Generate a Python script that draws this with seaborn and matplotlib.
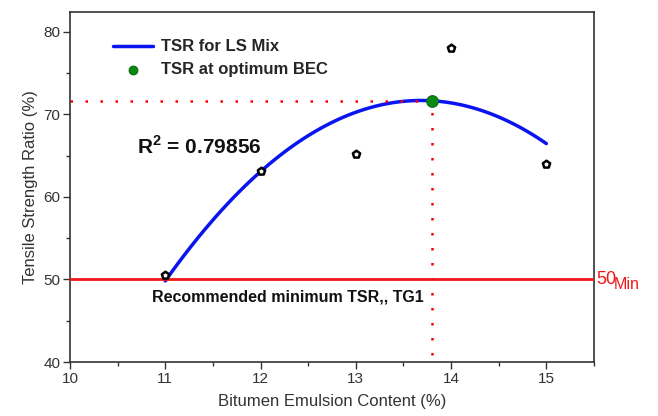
import matplotlib
matplotlib.use("Agg")
import matplotlib.pyplot as plt
import seaborn as sns
import pandas as pd
from matplotlib.ticker import MultipleLocator

# data
bec = [11, 12, 13, 14, 15]
tsr = [50.6, 63.2, 65.2, 78.0, 64.0]
opt_bec = [13.8]
opt_tsr = [71.6]
min_tsr = 50
r2_text = "R$^{2}$ = 0.79856"

sns.set_theme(style="white")
plt.rcParams["font.family"] = ["Liberation Sans", "DejaVu Sans"]
plt.rcParams["mathtext.fontset"] = "custom"
plt.rcParams["mathtext.rm"] = "Liberation Sans:bold"
plt.rcParams["mathtext.bf"] = "Liberation Sans:bold"

df = pd.DataFrame({"BEC": bec, "TSR": tsr})

fig = plt.figure(figsize=(6.58, 4.16), dpi=100)
ax = fig.add_axes([0.1064, 0.1298, 0.7963, 0.8413])

# quadratic fit line
sns.regplot(data=df, x="BEC", y="TSR", order=2, ci=None, scatter=False, ax=ax,
            label="TSR for LS Mix", line_kws=dict(color="#0a14f0", lw=2.5))
# measured points
sns.scatterplot(data=df, x="BEC", y="TSR", ax=ax, marker="p", s=30,
                facecolor="white", edgecolor="black", linewidth=1.8, zorder=4,
                legend=False)

# optimum guides
dots = (0, (1, 5))
ax.plot([10, opt_bec[0]], [opt_tsr[0], opt_tsr[0]], color="red", ls=dots,
        lw=1.8, zorder=2)
ax.plot([opt_bec[0], opt_bec[0]], [40.8, opt_tsr[0]], color="red", ls=dots,
        lw=1.8, zorder=2)
sns.scatterplot(x=opt_bec, y=opt_tsr, ax=ax, color="#0b8a12", s=70, edgecolor="#0b6a10",
                linewidth=0.8, zorder=5, label="TSR at optimum BEC")

# minimum requirement
ax.axhline(min_tsr, color="#f01818", lw=2, zorder=3)
ax.text(15.52, min_tsr, "50", color="#f01818", fontsize=13, va="center", ha="left",
        clip_on=False)
ax.text(15.71, min_tsr - 0.6, "Min", color="#f01818", fontsize=11.5, va="center",
        ha="left", clip_on=False)
ax.text(10.86, 47.9, "Recommended minimum TSR,, TG1", fontsize=11.5, fontweight="bold",
        va="center", color="#111111")
ax.text(10.70, 66.1, r2_text, fontsize=15, fontweight="bold", va="center",
        color="#111111")

ax.set_xlim(10, 15.5)
ax.set_ylim(40, 82.4)
ax.xaxis.set_major_locator(MultipleLocator(1))
ax.xaxis.set_minor_locator(MultipleLocator(0.5))
ax.yaxis.set_major_locator(MultipleLocator(10))
ax.yaxis.set_minor_locator(MultipleLocator(5))
ax.tick_params(which="both", bottom=True, left=True, direction="out",
               colors="#333333", width=1, labelsize=11, pad=2)
ax.tick_params(which="major", length=5)
ax.tick_params(which="minor", length=3)
for s in ax.spines.values():
    s.set_color("#333333")
    s.set_linewidth(1.2)

ax.set_xlabel("Bitumen Emulsion Content (%)", fontsize=12, color="#333333", labelpad=6)
ax.set_ylabel("Tensile Strength Ratio (%)", fontsize=12, color="#333333", labelpad=4)

ax.legend(loc="upper left", bbox_to_anchor=(0.06, 0.955), frameon=False,
          prop=dict(weight="bold", size=12), handlelength=2.4, labelspacing=0.45,
          borderpad=0.2, handletextpad=0.5, markerscale=0.75)

fig.savefig("out.png", dpi=100)
